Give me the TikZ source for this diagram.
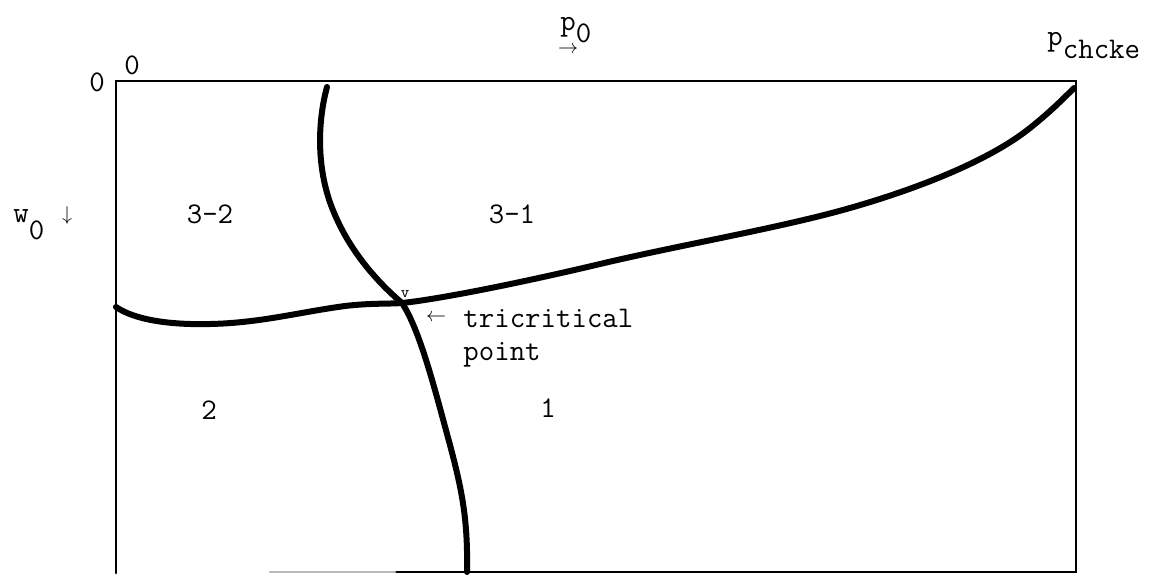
\documentclass[tikz,border=0pt]{standalone}
\usepackage{tikz}
\usetikzlibrary{positioning}
\tikzset{boxline/.style={line width=1.4pt, line cap=round}}
\tikzset{phaseline/.style={line width=3pt, line cap=round, line join=round}}
\tikzset{lab/.style={font=\ttfamily\fontsize{15}{16.5}\selectfont, inner sep=0pt}}

\begin{document}
\begin{tikzpicture}[x=0.5pt, y=-0.5pt]
  \useasboundingbox (0,0) rectangle (1150,574);

  % Marco del diagrama
  \draw[boxline] (116,573) -- (116,81) -- (1076,81) -- (1076,572) -- (395,572);
  \draw[boxline, gray!55] (395,572) -- (270,572);

  % Punto tricritico
  \coordinate (tcp) at (402,303);
  \node[font=\ttfamily\fontsize{8}{8}\selectfont, inner sep=0pt] (tcpmark) at (405,294) {v};

  % Frontera casi horizontal
  \draw[phaseline] (116,307) .. controls (135,320) and (170,325) .. (210,324)
    .. controls (260,323) and (300,312) .. (345,306)
    .. controls (370,303) and (390,304) .. (tcp)
    .. controls (440,299) and (520,283) .. (600,264)
    .. controls (680,245) and (780,228) .. (850,208)
    .. controls (920,188) and (990,160) .. (1030,128)
    .. controls (1050,112) and (1062,100) .. (1074,88);

  % Frontera casi vertical
  \draw[phaseline] (327,87) .. controls (318,120) and (315,170) .. (335,215)
    .. controls (350,250) and (375,280) .. (tcp)
    .. controls (420,330) and (435,390) .. (450,445)
    .. controls (462,490) and (468,520) .. (467,572);

  % Ejes
  \node[lab] (corner0) at (97,82) {0};
  \node[lab] (top0) at (132,65) {0};
  \node[lab, anchor=base west] (pzero) at (560,30) {p\raisebox{-6pt}{0}};
  \node[inner sep=0pt] (parrow) at (568,50) {$\rightarrow$};
  \node[lab, anchor=base west] (pchoke) at (1047,45) {p\raisebox{-6.5pt}{chcke}};
  \node[lab, anchor=base west] (wzero) at (13,222) {w\raisebox{-8.5pt}{0}};
  \node[inner sep=0pt] (warrow) at (67,215) {$\downarrow$};

  % Regiones
  \node[lab, anchor=base] (reg32) at (210,223) {3-2};
  \node[lab, anchor=base] (reg31) at (512,223) {3-1};
  \node[lab, anchor=base] (reg2) at (209,419) {2};
  \node[lab, anchor=base] (reg1) at (548,417) {1};

  % Etiqueta del punto tricritico
  \node[inner sep=0pt] (tcparrow) at (436,318) {$\leftarrow$};
  \node[lab, anchor=base west] (tritxt) at (463,327) {tricritical};
  \node[lab, anchor=base west] (pointtxt) at (463,360) {point};
\end{tikzpicture}
\end{document}
